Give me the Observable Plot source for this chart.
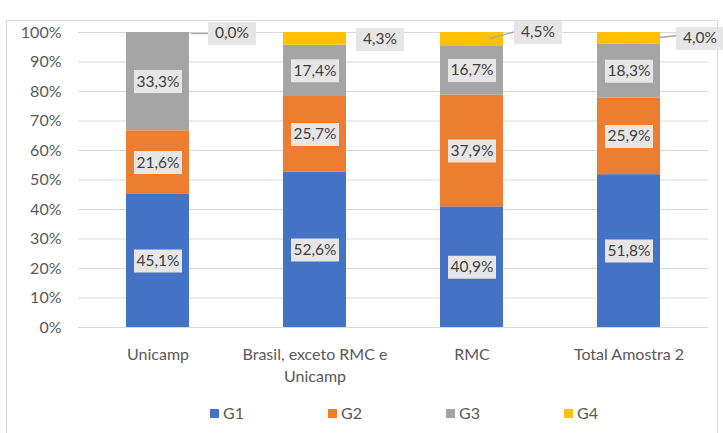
<!DOCTYPE html>
<html><head><meta charset="utf-8">
<script src="https://cdn.jsdelivr.net/npm/d3@7"></script>
<script src="https://cdn.jsdelivr.net/npm/@observablehq/plot@0.6"></script>
<style>
body{margin:0;background:#fff;font-family:Lato,"Open Sans",sans-serif;}
#wrap{position:relative;width:723px;height:433px;overflow:hidden;background:#fff;}
#frame{position:absolute;left:6px;top:20px;width:712px;height:430px;border:1px solid #d9d9d9;box-sizing:border-box;}
#chart{position:absolute;left:0;top:0;}
#legend{position:absolute;left:210px;top:403px;display:flex;gap:0;font-size:16px;line-height:20px;color:#595959;}
.item{display:flex;align-items:center;width:118px;}
.sw{width:9px;height:9px;margin-right:4px;}
</style></head>
<body><div id="wrap"><div id="frame"></div><div id="chart"></div><div id="legend"></div></div>
<script>
const categories = ["Unicamp", "Brasil, exceto RMC e Unicamp", "RMC", "Total Amostra 2"];
const categoryLabels = ["Unicamp", "Brasil, exceto RMC e\nUnicamp", "RMC", "Total Amostra 2"];
const groups = ["G1", "G2", "G3", "G4"];
const g1 = [45.1, 52.6, 40.9, 51.8];
const g2 = [21.6, 25.7, 37.9, 25.9];
const g3 = [33.3, 17.4, 16.7, 18.3];
const g4 = [0.0, 4.3, 4.5, 4.0];
const yTicks = [0, 10, 20, 30, 40, 50, 60, 70, 80, 90, 100];
const colors = ["#4472C4", "#ED7D31", "#A5A5A5", "#FFC000"];

const series = [g1, g2, g3, g4];
const rows = [];
categories.forEach((c, i) => {
  let acc = 0;
  series.forEach((s, k) => {
    rows.push({cat: c, g: groups[k], v: s[i], mid: acc + s[i] / 2, top: acc + s[i]});
    acc += s[i];
  });
});
const fmt = v => v.toFixed(1).replace(".", ",") + "%";
const inner = rows.filter(d => d.g !== "G4");
const outer = rows.filter(d => d.g === "G4");

const boxSym = {draw(ctx) { ctx.rect(-24, -11.5, 48, 23); }};
const lineSym = (x1, y1, x2, y2) => ({draw(ctx) { ctx.moveTo(x1, y1); ctx.lineTo(x2, y2); }});

// annotation placement for the outside (G4) labels
const outerPlace = {
  "Unicamp": {dx: 74, dy: 1, line: [33, 1, 52, 1]},
  "Brasil, exceto RMC e Unicamp": {dx: 65, dy: 7, line: null},
  "RMC": {dx: 66, dy: 0, line: [18, 6, 44, -1]},
  "Total Amostra 2": {dx: 71, dy: 6, line: [31, 5, 48, 3]}
};

const outerMarks = outer.flatMap(d => {
  const p = outerPlace[d.cat];
  const m = [];
  if (p.line) m.push(Plot.dot([d], {x: "cat", y: () => 100, symbol: lineSym(...p.line), stroke: "#a6a6a6", fill: "none", strokeWidth: 1.3}));
  m.push(Plot.dot([d], {x: "cat", y: () => 100, dx: p.dx, dy: p.dy, symbol: boxSym, fill: "#e7e6e6", stroke: "none"}));
  m.push(Plot.text([d], {x: "cat", y: () => 100, dx: p.dx, dy: p.dy, text: r => fmt(r.v), fill: "#404040", fontSize: 15.5}));
  return m;
});

const chart = Plot.plot({
  width: 723,
  height: 390,
  marginTop: 32,
  marginBottom: 63,
  marginLeft: 78,
  marginRight: 15,
  style: {fontFamily: "Lato, 'Open Sans', sans-serif", fontSize: "16px", background: "transparent"},
  x: {domain: categories, paddingInner: 0.6, paddingOuter: 0.3, label: null, axis: null},
  y: {domain: [0, 100], label: null, axis: null},
  color: {domain: groups, range: colors},
  marks: [
    Plot.ruleY(yTicks, {stroke: "#d9d9d9", strokeWidth: 1.2}),
    Plot.axisY(yTicks, {tickSize: 0, tickPadding: 17, tickFormat: d => d + "%", fill: "#595959", fontSize: 16, label: null}),
    Plot.axisX({tickSize: 0, tickPadding: 17, tickFormat: d => categoryLabels[categories.indexOf(d)], fill: "#595959", fontSize: 16, lineHeight: 1.375, label: null}),
    Plot.barY(rows, {x: "cat", y: "v", fill: "g"}),
    Plot.dot(inner, {x: "cat", y: "mid", symbol: boxSym, fill: "#e7e6e6", stroke: "none"}),
    Plot.text(inner, {x: "cat", y: "mid", text: d => fmt(d.v), fill: "#404040", fontSize: 15.5}),
    ...outerMarks
  ]
});
document.getElementById("chart").appendChild(chart);

const legend = document.getElementById("legend");
groups.forEach((g, i) => {
  const it = document.createElement("div");
  it.className = "item";
  const sw = document.createElement("span");
  sw.className = "sw";
  sw.style.background = colors[i];
  const t = document.createElement("span");
  t.textContent = g;
  it.appendChild(sw); it.appendChild(t);
  legend.appendChild(it);
});
</script></body></html>
